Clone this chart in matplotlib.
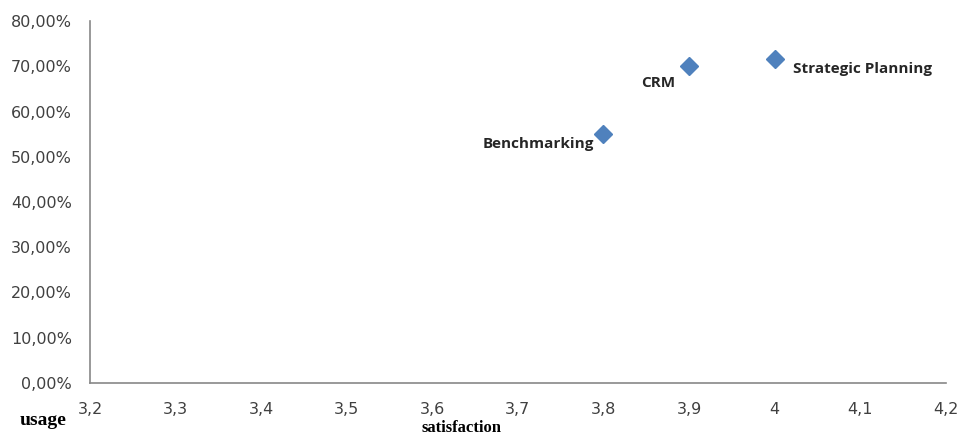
import matplotlib.pyplot as plt
from matplotlib.ticker import FuncFormatter, MultipleLocator

# Инструменты: удовлетворённость и частота использования
tools = ['Benchmarking', 'CRM', 'Strategic Planning']
satisfaction = [3.8, 3.9, 4.0]
usage = [55.0, 70.0, 71.5]

# смещения подписей (в пунктах) и выравнивание
offsets = [(-7, -7), (-10, -12), (13, -6.5)]
aligns = ['right', 'right', 'left']

fig = plt.figure(figsize=(9.65, 4.36), dpi=100)
ax = fig.add_axes([0.0933, 0.1216, 0.8867, 0.8302])

ax.plot(satisfaction, usage, linestyle='none', marker='D', markersize=9,
        color='#4F81BD')

for name, x, y, off, ha in zip(tools, satisfaction, usage, offsets, aligns):
    ax.annotate(name, (x, y), xytext=off, textcoords='offset points',
                ha=ha, va='center', fontsize=11, fontweight='bold',
                family='Open Sans', color='#262626')

ax.set_xlim(3.2, 4.2)
ax.set_ylim(0, 80)
ax.xaxis.set_major_locator(MultipleLocator(0.1))
ax.yaxis.set_major_locator(MultipleLocator(10))
ax.xaxis.set_major_formatter(FuncFormatter(
    lambda v, p: ('%g' % round(v, 1)).replace('.', ',')))
ax.yaxis.set_major_formatter(FuncFormatter(
    lambda v, p: ('%.2f%%' % v).replace('.', ',')))

ax.tick_params(length=0, labelsize=11.5, labelcolor='#404040')
ax.tick_params(axis='x', pad=14)
ax.tick_params(axis='y', pad=13)

for side in ['top', 'right']:
    ax.spines[side].set_visible(False)
for side in ['left', 'bottom']:
    ax.spines[side].set_color('#888888')
    ax.spines[side].set_linewidth(1.2)

fig.text(20 / 965, 1 - 420 / 436, 'usage', ha='left', va='center',
         family='Liberation Serif', fontweight='bold', fontsize=14)
fig.text(462 / 965, 1 - 428 / 436, 'satisfaction', ha='center', va='center',
         family='Liberation Serif', fontweight='bold', fontsize=12)

fig.savefig('out.png', dpi=100)
